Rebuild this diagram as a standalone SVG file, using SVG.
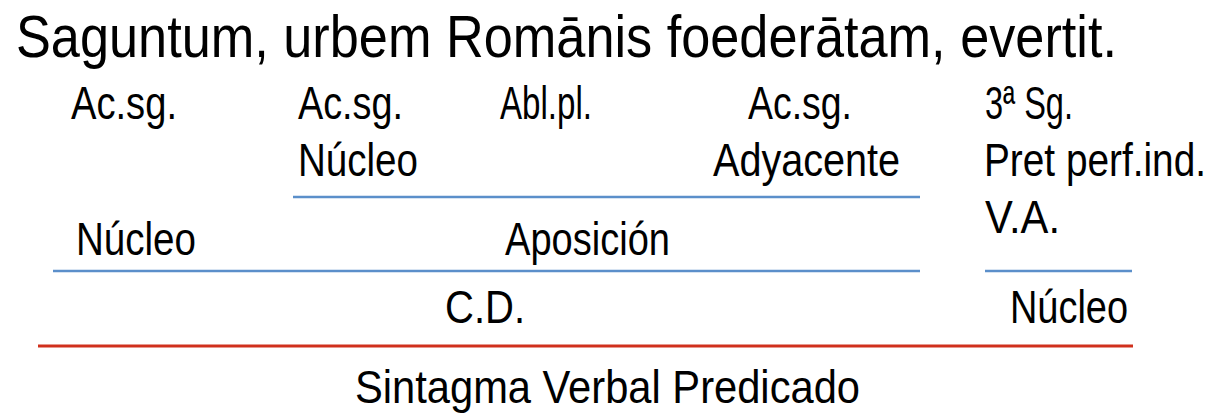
<svg xmlns="http://www.w3.org/2000/svg" width="1218" height="419" viewBox="0 0 1218 419">
<style>
text{font-family:"Liberation Sans",Arial,sans-serif;fill:#000;}
.t{font-size:60px;}
.l{font-size:46px;}
.b{stroke:#5b8fca;stroke-width:2.5;fill:none;}
.r{stroke:#d0301c;stroke-width:3;fill:none;}
</style>
<rect width="1218" height="419" fill="#fff"/>
<g id="title"><text class="t" x="16" y="57" textLength="1101" lengthAdjust="spacingAndGlyphs">Saguntum, urbem Romānis foederātam, evertit.</text></g>
<g id="saguntum">
<text class="l" x="71" y="119" textLength="106" lengthAdjust="spacingAndGlyphs">Ac.sg.</text>
<text class="l" x="76" y="255" textLength="120" lengthAdjust="spacingAndGlyphs">Núcleo</text>
</g>
<g id="urbem">
<text class="l" x="298" y="119" textLength="105" lengthAdjust="spacingAndGlyphs">Ac.sg.</text>
<text class="l" x="298" y="176" textLength="120" lengthAdjust="spacingAndGlyphs">Núcleo</text>
</g>
<g id="romanis">
<text class="l" x="500" y="119" textLength="92" lengthAdjust="spacingAndGlyphs">Abl.pl.</text>
</g>
<g id="foederatam">
<text class="l" x="748" y="119" textLength="104" lengthAdjust="spacingAndGlyphs">Ac.sg.</text>
<text class="l" x="713" y="176" textLength="187" lengthAdjust="spacingAndGlyphs">Adyacente</text>
</g>
<g id="aposicion">
<text class="l" x="505" y="255" textLength="165" lengthAdjust="spacingAndGlyphs">Aposición</text>
</g>
<g id="evertit">
<text class="l" x="985" y="119" textLength="88" lengthAdjust="spacingAndGlyphs">3ª Sg.</text>
<text class="l" x="984" y="176" textLength="222" lengthAdjust="spacingAndGlyphs">Pret perf.ind.</text>
<text class="l" x="985" y="233" textLength="75" lengthAdjust="spacingAndGlyphs">V.A.</text>
<text class="l" x="1010" y="323" textLength="118" lengthAdjust="spacingAndGlyphs">Núcleo</text>
</g>
<g id="cd">
<text class="l" x="445" y="323" textLength="80" lengthAdjust="spacingAndGlyphs">C.D.</text>
</g>
<g id="svp">
<text class="l" x="355" y="403" textLength="505" lengthAdjust="spacingAndGlyphs">Sintagma Verbal Predicado</text>
</g>
<g id="connectors">
<line class="b" x1="293" y1="197" x2="920" y2="197"/>
<line class="b" x1="53" y1="271" x2="920" y2="271"/>
<line class="b" x1="985" y1="271" x2="1132" y2="271"/>
<line class="r" x1="38" y1="346" x2="1133" y2="346"/>
</g>
</svg>
